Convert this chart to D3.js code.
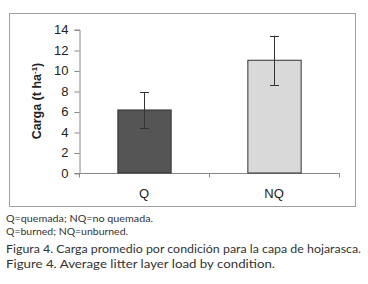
<!DOCTYPE html>
<html>
<head>
<meta charset="utf-8">
<script src="https://cdn.jsdelivr.net/npm/d3@7"></script>
<style>
body { margin: 0; background: #fff; }
svg { display: block; }
</style>
</head>
<body>
<div class="vis"></div>
<script>
var w = 368;
var h = 284;

// Data
var categories = ["Q", "NQ"];
var means = [6.15, 11.0];
var errors = [1.75, 2.4];
var barColors = ["#555555", "#d9d9d9"];
var yTicks = [0, 2, 4, 6, 8, 10, 12, 14];
var captions = [
    "Q=quemada; NQ=no quemada.",
    "Q=burned; NQ=unburned.",
    "Figura 4. Carga promedio por condición para la capa de hojarasca.",
    "Figure 4. Average litter layer load by condition."
];

var data = categories.map((c, i) => ({ cat: c, value: means[i], err: errors[i], color: barColors[i] }));

var svg = d3.select(".vis")
    .append("svg")
    .attr("width", w)
    .attr("height", h);

// Outer frame of the chart area
svg.append("rect")
    .attr("x", 9.5)
    .attr("y", 13.5)
    .attr("width", 346)
    .attr("height", 193)
    .attr("fill", "none")
    .attr("stroke", "#a0a0a0");

var x = d3.scaleBand()
    .domain(categories)
    .range([79, 339])
    .paddingInner(0.59)
    .paddingOuter(0.295);

var y = d3.scaleLinear()
    .domain([0, 14])
    .range([173, 29.5]);

// Y axis
var yAxis = svg.append("g")
    .attr("transform", "translate(79.5,0)")
    .call(d3.axisLeft(y).tickValues(yTicks).tickSize(5).tickPadding(6));
yAxis.select(".domain").attr("stroke", "#888");
yAxis.selectAll(".tick line").attr("stroke", "#888").attr("transform", "translate(0,0.5)");
yAxis.selectAll("text")
    .attr("font-family", "Liberation Sans, Arial, sans-serif")
    .attr("font-size", 13)
    .attr("fill", "#222");

// X axis (ticks at band boundaries)
var xAxisG = svg.append("g").attr("transform", "translate(0,173.5)");
xAxisG.append("line")
    .attr("x1", 79).attr("x2", 339.5)
    .attr("stroke", "#888");
xAxisG.selectAll(".xt")
    .data([79.5, 209.5, 339.5])
    .enter()
    .append("line")
    .attr("x1", d => d).attr("x2", d => d)
    .attr("y1", 0).attr("y2", 4)
    .attr("stroke", "#888");
xAxisG.selectAll(".xl")
    .data(categories)
    .enter()
    .append("text")
    .attr("x", d => x(d) + x.bandwidth() / 2)
    .attr("y", 24.5)
    .attr("text-anchor", "middle")
    .attr("font-family", "Liberation Sans, Arial, sans-serif")
    .attr("font-size", 13)
    .attr("fill", "#222")
    .text(d => d);

// Bars
svg.selectAll(".bar")
    .data(data)
    .enter()
    .append("rect")
    .attr("x", d => x(d.cat) + 0.5)
    .attr("y", d => y(d.value))
    .attr("width", x.bandwidth())
    .attr("height", d => y(0) - y(d.value))
    .attr("fill", d => d.color)
    .attr("stroke", "#333");

// Error bars
var eb = svg.selectAll(".err")
    .data(data)
    .enter()
    .append("g")
    .attr("stroke", "#333")
    .attr("stroke-width", 1);
eb.append("line")
    .attr("x1", d => Math.round(x(d.cat) + x.bandwidth() / 2) + 0.5)
    .attr("x2", d => Math.round(x(d.cat) + x.bandwidth() / 2) + 0.5)
    .attr("y1", d => y(d.value + d.err))
    .attr("y2", d => y(d.value - d.err));
[1, -1].forEach(s => {
    eb.append("line")
        .attr("x1", d => Math.round(x(d.cat) + x.bandwidth() / 2) - 4)
        .attr("x2", d => Math.round(x(d.cat) + x.bandwidth() / 2) + 5)
        .attr("y1", d => Math.round(y(d.value + s * d.err)) + 0.5)
        .attr("y2", d => Math.round(y(d.value + s * d.err)) + 0.5);
});

// Y axis title
svg.append("text")
    .attr("transform", "translate(41,101) rotate(-90)")
    .attr("text-anchor", "middle")
    .attr("font-family", "Liberation Sans, Arial, sans-serif")
    .attr("font-size", 12.5)
    .attr("font-weight", "bold")
    .attr("fill", "#222")
    .html('Carga (t ha<tspan dy="-4" font-size="8">-1</tspan><tspan dy="4">)</tspan>');

// Captions below the frame (wide geometric face, stretched to the measured widths)
var capY = [222, 235, 253, 268];
var capSize = [9, 9, 11, 11];
var capWidth = [147, 122, 355, 269];
svg.selectAll(".cap")
    .data(captions)
    .enter()
    .append("text")
    .attr("x", 6)
    .attr("y", (d, i) => capY[i])
    .attr("font-family", "Lato, Noto Sans, sans-serif")
    .attr("font-size", (d, i) => capSize[i])
    .attr("textLength", (d, i) => capWidth[i])
    .attr("lengthAdjust", "spacingAndGlyphs")
    .attr("fill", "#333")
    .text(d => d);
</script>
</body>
</html>
